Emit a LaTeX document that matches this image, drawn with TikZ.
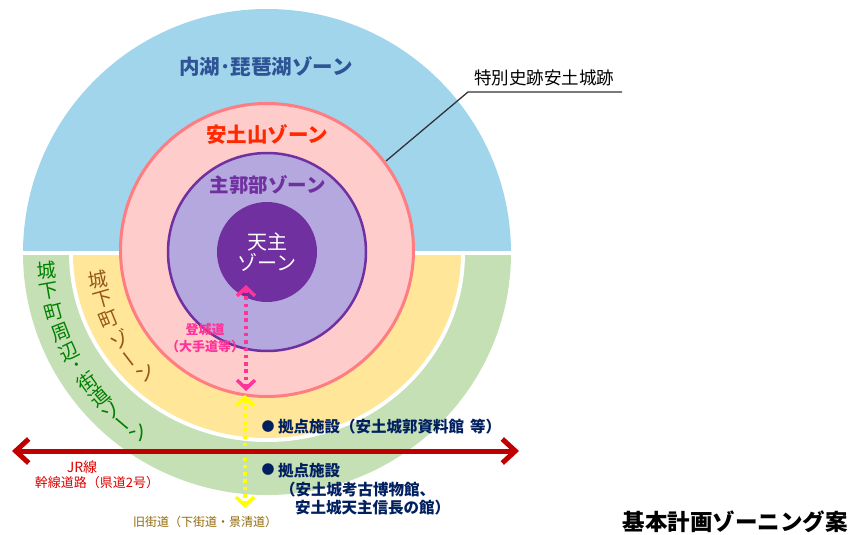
\documentclass[tikz,border=0pt]{standalone}
\usepackage{fontspec}
\setmainfont{Noto Sans CJK JP}
\usetikzlibrary{arrows.meta}
\definecolor{lakeblue}{RGB}{160,213,236}
\definecolor{lakelabel}{RGB}{47,84,150}
\definecolor{townyellow}{RGB}{255,230,153}
\definecolor{outergreen}{RGB}{197,224,180}
\definecolor{mtpink}{RGB}{255,204,204}
\definecolor{mtborder}{RGB}{255,124,128}
\definecolor{mtlabel}{RGB}{255,40,0}
\definecolor{lavender}{RGB}{180,168,222}
\definecolor{castlepurple}{RGB}{112,48,160}
\definecolor{townbrown}{RGB}{150,85,25}
\definecolor{outerlabel}{RGB}{0,128,0}
\definecolor{roadpink}{RGB}{255,51,153}
\definecolor{roadyellow}{RGB}{255,255,0}
\definecolor{jrred}{RGB}{192,0,0}
\definecolor{jrtext}{RGB}{220,0,0}
\definecolor{oldroad}{RGB}{145,105,10}
\definecolor{navytext}{RGB}{0,32,96}
\begin{document}
\begin{tikzpicture}[x=1pt,y=-1pt,
  lbl/.style={inner sep=0pt,outer sep=0pt},
  curvtext/.style={lbl,font=\fontsize{19.5}{19.5}\selectfont},
  dotarrow/.style={line width=3.5pt,dash pattern=on 3.5pt off 3.8pt,
    {Straight Barb[length=8.5pt,width=18pt]}-{Straight Barb[length=8.5pt,width=18pt]}},
  jrarrow/.style={draw=jrred,line width=5pt,
    {Straight Barb[length=13pt,width=24pt]}-{Straight Barb[length=13pt,width=24pt]}},
  basetext/.style={lbl,anchor=west,font=\fontsize{15.5}{16}\selectfont\bfseries,text=navytext}]
\useasboundingbox (0,0) rectangle (852,535);
\fill[white] (0,0) rectangle (852,535);
% upper lake zone
\begin{scope}
  \clip (0,0) rectangle (852,250);
  \fill[lakeblue] (267,253) circle (244pt);
\end{scope}
% lower zones
\begin{scope}
  \clip (0,255) rectangle (852,535);
  \fill[outergreen] (267,253) ellipse (244pt and 242pt);
  \fill[white] (267,253) ellipse (198pt and 189pt);
  \fill[townyellow] (267,253) ellipse (194pt and 185pt);
\end{scope}
% leader line
\coordinate (ldA) at (622,92);
\coordinate (ldB) at (468,92);
\coordinate (ldC) at (386,161);
\draw[line width=1.3pt,draw=black!80] (ldA) -- (ldB) -- (ldC);
% mountain zone
\filldraw[fill=mtpink,draw=mtborder,line width=3pt] (267,250) circle (146.5pt);
% main enclosure
\filldraw[fill=lavender,draw=castlepurple,line width=2.5pt] (267,252) circle (99pt);
% keep
\fill[castlepurple] (267,252) circle (50pt);
% labels
\node[lbl,font=\fontsize{20.5}{21}\selectfont\bfseries,text=lakelabel] (lake) at (266,67) {内湖･琵琶湖ゾーン};
\node[lbl,font=\fontsize{20.5}{21}\selectfont\bfseries,text=mtlabel] (mt) at (267,135) {安土山ゾーン};
\node[lbl,font=\fontsize{19.5}{20}\selectfont\bfseries,text=castlepurple] (main) at (268,185) {主郭部ゾーン};
\node[lbl,font=\fontsize{20}{21}\selectfont,text=white,align=center] (keep) at (267,252) {天主\\ゾーン};
\foreach \ch/\a/\r [count=\i] in {城/9/0,下/15.9/0,町/22.7/0,ゾ/30.6/0,ー/37.5/90,ン/44.6/0}
  \node[curvtext,text=townbrown,rotate=\a+\r] (town\i) at ({267-171*cos(\a)},{253+171*sin(\a)}) {\ch};
\foreach \ch/\a/\r [count=\i] in {城/4.5/0,下/10/0,町/15.5/0,周/21/0,辺/26.5/0,･/31.2/0,街/35.5/0,道/40.5/0,ゾ/45.2/0,ー/49.8/90,ン/54.5/0}
  \node[curvtext,text=outerlabel,rotate=\a+\r] (outer\i) at ({267-221*cos(\a)},{253+221*sin(\a)}) {\ch};
\node[lbl,font=\fontsize{13}{17.5}\selectfont\bfseries,text=roadpink,align=center] (tojo) at (205,338) {登城道\\（大手道等）};
\node[lbl,font=\fontsize{14}{14}\selectfont,text=jrtext] (jr1) at (82,467) {JR線};
\node[lbl,font=\fontsize{13}{13}\selectfont,text=jrtext] (jr2) at (97,483) {幹線道路（県道2号）};
\node[lbl,font=\fontsize{12}{12}\selectfont,text=oldroad] (old) at (205,522) {旧街道（下街道・景清道）};
\node[lbl,font=\fontsize{13}{13}\selectfont,text=navytext] (b1) at (268,427) {●};
\node[basetext] (base1) at (278,427) {拠点施設（安土城郭資料館\hspace{0.4em}等）};
\node[lbl,font=\fontsize{13}{13}\selectfont,text=navytext] (b2) at (268,470) {●};
\node[basetext] (base2a) at (278,471) {拠点施設};
\node[basetext] (base2b) at (280,490) {（安土城考古博物館、};
\node[basetext] (base2c) at (295,508) {安土城天主信長の館）};
\node[lbl,font=\fontsize{17.5}{18}\selectfont,text=black] (site) at (544,78) {特別史跡安土城跡};
\node[lbl,font=\fontsize{22.5}{23}\selectfont\bfseries,text=black] (title) at (735,522) {基本計画ゾーニング案};
% roads
\coordinate (pkT) at (246,285);
\coordinate (pkB) at (246,391);
\draw[dotarrow,draw=roadpink] (pkT) -- (pkB);
\coordinate (ywT) at (245,395);
\coordinate (ywB) at (245,508);
\draw[dotarrow,draw=roadyellow] (ywT) -- (ywB);
\coordinate (jrL) at (12,451);
\coordinate (jrR) at (519,451);
\draw[jrarrow] (jrL) -- (jrR);
\end{tikzpicture}
\end{document}
